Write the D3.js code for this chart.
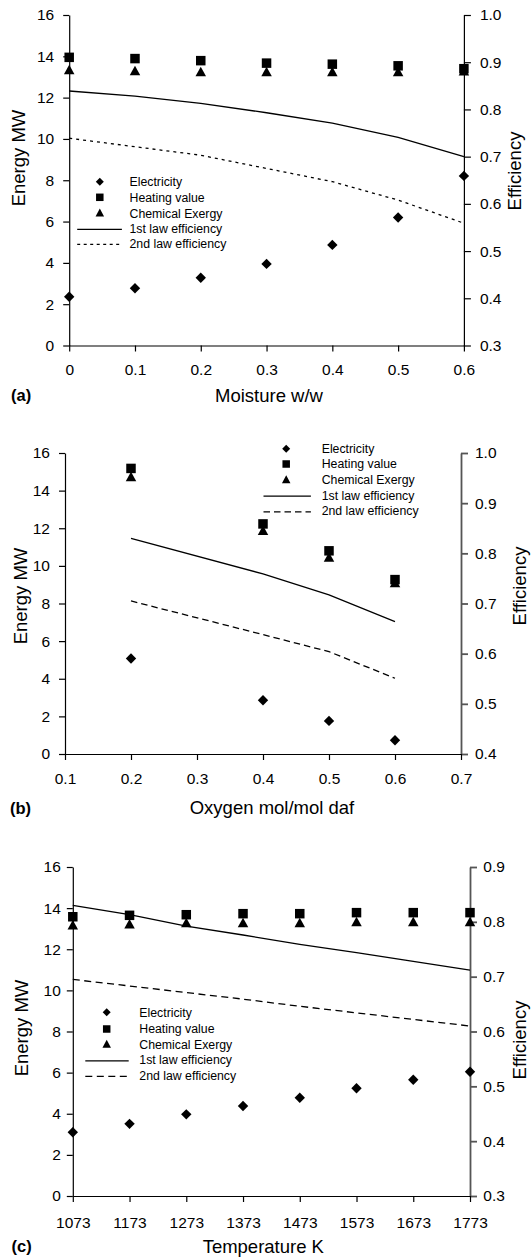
<!DOCTYPE html>
<html><head><meta charset="utf-8">
<script src="https://cdn.jsdelivr.net/npm/d3@7"></script>
<style>
body{margin:0;background:#fff}
svg{display:block}
text{font-family:"Liberation Sans",Arial,sans-serif}
</style>
</head><body>
<svg id="chart" width="531" height="1258"></svg>
<script>
// ---------- DATA ----------
const seriesNames = ["Electricity", "Heating value", "Chemical Exergy", "1st law efficiency", "2nd law efficiency"];
const energyTicks = [0, 2, 4, 6, 8, 10, 12, 14, 16];

// (a) moisture
const moisture = [0, 0.1, 0.2, 0.3, 0.4, 0.5, 0.6];
const moistureTickValues = [0, 0.1, 0.2, 0.3, 0.4, 0.5, 0.6];
const moistureTickLabels = ["0", "0.1", "0.2", "0.3", "0.4", "0.5", "0.6"];
const moistureEffTicks = [0.3, 0.4, 0.5, 0.6, 0.7, 0.8, 0.9, 1.0];
const moistureElectricity = [2.36, 2.77, 3.28, 3.95, 4.87, 6.20, 8.21];
const moistureHeating = [13.95, 13.89, 13.79, 13.67, 13.62, 13.54, 13.40];
const moistureExergy = [13.32, 13.27, 13.22, 13.22, 13.22, 13.22, 13.25];
const moistureEff1 = [0.839, 0.828, 0.813, 0.793, 0.771, 0.741, 0.700];
const moistureEff2 = [0.739, 0.721, 0.703, 0.675, 0.647, 0.608, 0.559];

// (b) oxygen
const oxygen = [0.2, 0.4, 0.5, 0.6];
const oxygenTickValues = [0.1, 0.2, 0.3, 0.4, 0.5, 0.6, 0.7];
const oxygenTickLabels = ["0.1", "0.2", "0.3", "0.4", "0.5", "0.6", "0.7"];
const oxygenEffTicks = [0.4, 0.5, 0.6, 0.7, 0.8, 0.9, 1.0];
const oxygenElectricity = [5.08, 2.86, 1.76, 0.73];
const oxygenHeating = [15.18, 12.23, 10.80, 9.27];
const oxygenExergy = [14.70, 11.84, 10.42, 9.07];
const oxygenEff1 = [0.830, 0.759, 0.717, 0.664];
const oxygenEff2 = [0.705, 0.638, 0.604, 0.551];

// (c) temperature
const temperature = [1073, 1173, 1273, 1373, 1473, 1573, 1673, 1773];
const temperatureTickValues = [1073, 1173, 1273, 1373, 1473, 1573, 1673, 1773];
const temperatureTickLabels = ["1073", "1173", "1273", "1373", "1473", "1573", "1673", "1773"];
const temperatureEffTicks = [0.3, 0.4, 0.5, 0.6, 0.7, 0.8, 0.9];
const temperatureElectricity = [3.10, 3.51, 3.97, 4.38, 4.78, 5.24, 5.65, 6.04];
const temperatureHeating = [13.58, 13.65, 13.68, 13.73, 13.73, 13.78, 13.78, 13.78];
const temperatureExergy = [13.14, 13.20, 13.25, 13.25, 13.25, 13.30, 13.30, 13.30];
const temperatureEff1 = [0.830, 0.813, 0.792, 0.776, 0.759, 0.744, 0.728, 0.712];
const temperatureEff2 = [0.695, 0.683, 0.671, 0.659, 0.646, 0.634, 0.622, 0.610];

// ---------- DRAW ----------
const svg = d3.select("#chart");
const FONT = '"Liberation Sans", Arial, sans-serif';

function diamondPath(r) { return `M0,${-r}L${r},0L0,${r}L${-r},0Z`; }
function squarePath(s) { const h = s / 2; return `M${-h},${-h}H${h}V${h}H${-h}Z`; }
function trianglePath(w, h) { return `M0,${-h * 0.6}L${w / 2},${h * 0.4}L${-w / 2},${h * 0.4}Z`; }

function styleAxis(sel, color, width, fs) {
  sel.attr("font-family", FONT).attr("font-size", fs);
  sel.selectAll("path.domain").attr("stroke", color).attr("stroke-width", width);
  sel.selectAll(".tick line").attr("stroke", color).attr("stroke-width", width);
  sel.selectAll(".tick text").attr("fill", "#000");
}

function drawPanel(cfg) {
  const g = svg.append("g");
  const x = d3.scaleLinear().domain(cfg.xDomain).range([cfg.left, cfg.right]);
  const yE = d3.scaleLinear().domain([0, 16]).range([cfg.bottom, cfg.top]);
  const yF = d3.scaleLinear().domain(cfg.effDomain).range([cfg.bottom, cfg.top]);
  const fs = 15.5;

  // right axis
  const ra = g.append("g").attr("transform", `translate(${cfg.right},0)`)
    .call(d3.axisRight(yF).tickValues(cfg.effTicks).tickFormat(d3.format(".1f"))
      .tickSize(7).tickPadding(cfg.rp).tickSizeOuter(0));
  styleAxis(ra, cfg.rightColor, cfg.rightWidth, fs);

  // left axis
  const la = g.append("g").attr("transform", `translate(${cfg.left},0)`)
    .call(d3.axisLeft(yE).tickValues(energyTicks).tickSize(6).tickPadding(cfg.lp).tickSizeOuter(0));
  styleAxis(la, "#000", 1.2, fs);

  // bottom axis
  const ba = g.append("g").attr("transform", `translate(0,${cfg.bottom})`)
    .call(d3.axisBottom(x).tickValues(cfg.xTicks).tickFormat((d, i) => cfg.xLabels[i])
      .tickSize(6).tickPadding(cfg.bp).tickSizeOuter(0));
  styleAxis(ba, "#000", 1.2, fs);

  // efficiency lines
  const l1 = d3.line().x((d, i) => x(cfg.xs[i])).y(d => yF(d));
  g.append("path").attr("d", l1(cfg.eff1)).attr("fill", "none").attr("stroke", "#000").attr("stroke-width", 1.3);
  g.append("path").attr("d", l1(cfg.eff2)).attr("fill", "none").attr("stroke", "#000")
    .attr("stroke-width", cfg.dashWidth).attr("stroke-dasharray", cfg.dash);

  // markers
  g.selectAll(".sq").data(cfg.heat).enter().append("path")
    .attr("d", squarePath(9.5)).attr("transform", (d, i) => `translate(${x(cfg.xs[i])},${yE(d)})`).attr("fill", "#000");
  g.selectAll(".tr").data(cfg.exergy).enter().append("path")
    .attr("d", trianglePath(10.5, 9.5)).attr("transform", (d, i) => `translate(${x(cfg.xs[i])},${yE(d)})`).attr("fill", "#000");
  g.selectAll(".dm").data(cfg.elec).enter().append("path")
    .attr("d", diamondPath(5.2)).attr("transform", (d, i) => `translate(${x(cfg.xs[i])},${yE(d)})`).attr("fill", "#000");

  // legend
  const L = cfg.legend;
  const lg = g.append("g").attr("font-family", FONT).attr("font-size", 12.3);
  const shapes = [diamondPath(4), squarePath(7.5), trianglePath(8.5, 8)];
  shapes.forEach((p, i) => {
    lg.append("path").attr("d", p).attr("transform", `translate(${L.mx},${L.rows[i]})`).attr("fill", "#000");
  });
  lg.append("line").attr("x1", L.lx1).attr("x2", L.lx2).attr("y1", L.rows[3] + 1).attr("y2", L.rows[3] + 1)
    .attr("stroke", "#000").attr("stroke-width", 1.3);
  lg.append("line").attr("x1", L.lx1).attr("x2", L.lx2).attr("y1", L.rows[4] + 1).attr("y2", L.rows[4] + 1)
    .attr("stroke", "#000").attr("stroke-width", cfg.dashWidth).attr("stroke-dasharray", cfg.legendDash);
  seriesNames.forEach((s, i) => {
    lg.append("text").attr("x", L.tx).attr("y", L.rows[i]).attr("dy", "0.35em").text(s);
  });

  // titles
  g.append("text").attr("x", cfg.xTitle[0]).attr("y", cfg.xTitle[1]).attr("dy", "0.35em")
    .attr("text-anchor", "middle").attr("font-size", 18.5).text(cfg.xTitleText);
  g.append("text").attr("x", cfg.tag[0]).attr("y", cfg.tag[1]).attr("dy", "0.35em")
    .attr("font-size", 16.5).attr("font-weight", "bold").text(cfg.tagText);
  g.append("text").attr("transform", `translate(${cfg.yTitle[0]},${cfg.yTitle[1]}) rotate(-90)`)
    .attr("dy", "0.35em").attr("text-anchor", "middle").attr("font-size", 18.5).text("Energy MW");
  g.append("text").attr("transform", `translate(${cfg.rTitle[0]},${cfg.rTitle[1]}) rotate(-90)`)
    .attr("dy", "0.35em").attr("text-anchor", "middle").attr("font-size", 18.5).text("Efficiency");
}

drawPanel({
  left: 69.2, right: 463.9, top: 15, bottom: 345.5,
  xDomain: [0, 0.6], effDomain: [0.3, 1.0],
  xTicks: moistureTickValues, xLabels: moistureTickLabels, effTicks: moistureEffTicks,
  xs: moisture, elec: moistureElectricity, heat: moistureHeating, exergy: moistureExergy,
  eff1: moistureEff1, eff2: moistureEff2,
  rightColor: "#000", rightWidth: 1.2, lp: 9, rp: 9, bp: 12.5,
  dash: "3,4", legendDash: "3,3.5", dashWidth: 1.3,
  legend: { mx: 99.8, tx: 129.5, lx1: 77.2, lx2: 121.9, rows: [181.7, 197.3, 213.3, 228.3, 243.3] },
  xTitle: [269, 395.7], xTitleText: "Moisture w/w", tag: [11, 395.7], tagText: "(a)",
  yTitle: [19, 158], rTitle: [515, 171]
});

drawPanel({
  left: 65, right: 461, top: 453, bottom: 754,
  xDomain: [0.1, 0.7], effDomain: [0.4, 1.0],
  xTicks: oxygenTickValues, xLabels: oxygenTickLabels, effTicks: oxygenEffTicks,
  xs: oxygen, elec: oxygenElectricity, heat: oxygenHeating, exergy: oxygenExergy,
  eff1: oxygenEff1, eff2: oxygenEff2,
  rightColor: "#555", rightWidth: 1.8, lp: 9, rp: 7, bp: 13.3,
  dash: "6.5,4", legendDash: "6.5,4", dashWidth: 1.3,
  legend: { mx: 286.2, tx: 321.7, lx1: 263.5, lx2: 310.9, rows: [448.8, 464, 480, 495.2, 510.8] },
  xTitle: [272, 807.6], xTitleText: "Oxygen mol/mol daf", tag: [10, 808], tagText: "(b)",
  yTitle: [21, 596], rTitle: [520, 586]
});

drawPanel({
  left: 72.8, right: 470, top: 867, bottom: 1196,
  xDomain: [1073, 1773], effDomain: [0.3, 0.9],
  xTicks: temperatureTickValues, xLabels: temperatureTickLabels, effTicks: temperatureEffTicks,
  xs: temperature, elec: temperatureElectricity, heat: temperatureHeating, exergy: temperatureExergy,
  eff1: temperatureEff1, eff2: temperatureEff2,
  rightColor: "#555", rightWidth: 1.8, lp: 6, rp: 6.3, bp: 15,
  dash: "7,4.5", legendDash: "7,4.5", dashWidth: 1.3,
  legend: { mx: 106.7, tx: 139.3, lx1: 85.3, lx2: 128.7, rows: [1012.3, 1029, 1044.5, 1059.8, 1075.4] },
  xTitle: [263.3, 1247], xTitleText: "Temperature K", tag: [11.5, 1246.5], tagText: "(c)",
  yTitle: [22, 1028], rTitle: [520, 1040]
});
</script>
</body></html>
